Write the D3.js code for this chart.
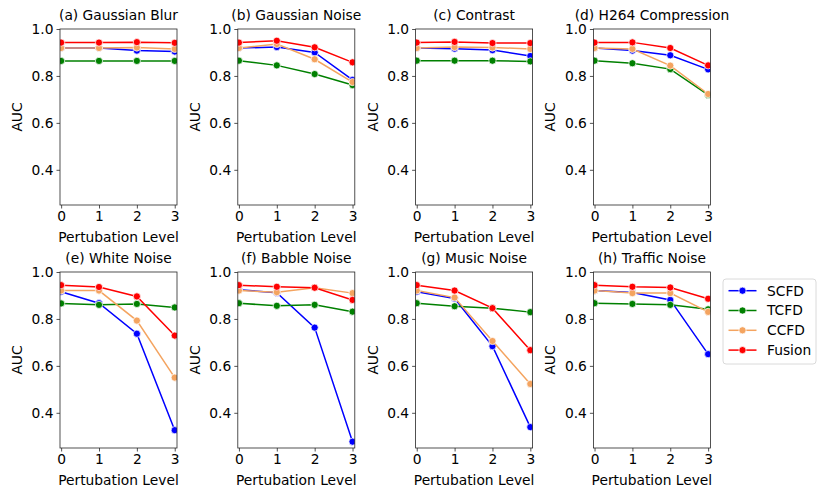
<!DOCTYPE html>
<html><head><meta charset="utf-8">
<script src="https://cdn.jsdelivr.net/npm/d3@7/dist/d3.min.js"></script>
<style>body{margin:0;background:#fff}svg{display:block}text{font-family:"DejaVu Sans",sans-serif}</style>
</head><body><svg id="c" width="830" height="498"></svg>
<script>
const levels = [0, 1, 2, 3];
const yTicks = [0.4, 0.6, 0.8, 1.0];
const seriesNames = ["SCFD", "TCFD", "CCFD", "Fusion"];
const seriesColors = ["#0000ff", "#008000", "#f4a460", "#ff0000"];
const panelTitles = ["(a) Gaussian Blur", "(b) Gaussian Noise", "(c) Contrast", "(d) H264 Compression",
  "(e) White Noise", "(f) Babble Noise", "(g) Music Noise", "(h) Traffic Noise"];
// values per panel: [SCFD, TCFD, CCFD, Fusion]
const gaussianBlur = [[0.919,0.919,0.908,0.904],[0.864,0.864,0.864,0.864],[0.919,0.919,0.921,0.915],[0.942,0.942,0.944,0.941]];
const gaussianNoise = [[0.919,0.923,0.900,0.783],[0.865,0.845,0.808,0.761],[0.919,0.936,0.871,0.774],[0.942,0.950,0.922,0.858]];
const contrast = [[0.919,0.916,0.910,0.885],[0.865,0.865,0.865,0.862],[0.919,0.923,0.921,0.915],[0.942,0.945,0.940,0.940]];
const h264 = [[0.919,0.908,0.888,0.828],[0.865,0.854,0.829,0.719],[0.919,0.915,0.844,0.723],[0.942,0.943,0.919,0.845]];
const whiteNoise = [[0.916,0.867,0.737,0.326],[0.866,0.860,0.864,0.849],[0.921,0.921,0.793,0.550],[0.944,0.936,0.896,0.729]];
const babbleNoise = [[0.924,0.912,0.763,0.277],[0.867,0.856,0.860,0.831],[0.921,0.914,0.933,0.910],[0.944,0.937,0.933,0.881]];
const musicNoise = [[0.916,0.887,0.684,0.339],[0.867,0.854,0.846,0.829],[0.921,0.891,0.706,0.523],[0.944,0.921,0.846,0.667]];
const trafficNoise = [[0.921,0.913,0.881,0.650],[0.867,0.864,0.860,0.841],[0.921,0.910,0.910,0.830],[0.944,0.937,0.934,0.886]];
const panelData = [gaussianBlur, gaussianNoise, contrast, h264, whiteNoise, babbleNoise, musicNoise, trafficNoise];

const svg = d3.select("#c");
const W = 117, H = 176;
const lefts = [60, 237.8, 415.6, 593.4];
const tops = [29, 272];
const fs = "13.8px";
const axisColor = "#262626";

panelData.forEach((data, i) => {
  const col = i % 4, row = Math.floor(i / 4);
  const g = svg.append("g").attr("transform", `translate(${lefts[col]},${tops[row]})`);
  const x = d3.scaleLinear().domain([-0.03, 3.06]).range([0, W]);
  const y = d3.scaleLinear().domain([0.25, 1.0]).range([H, 0]);
  const cid = "clip" + i;
  g.append("clipPath").attr("id", cid).append("rect").attr("x", 0).attr("y", 0).attr("width", W).attr("height", H);
  const plot = g.append("g").attr("clip-path", `url(#${cid})`);
  const line = d3.line().x((d, k) => x(levels[k])).y(d => y(d));
  data.forEach((vals, s) => {
    plot.append("path").attr("d", line(vals)).attr("fill", "none")
      .attr("stroke", seriesColors[s]).attr("stroke-width", 1.5);
    plot.selectAll(null).data(vals).enter().append("circle")
      .attr("cx", (d, k) => x(levels[k])).attr("cy", d => y(d)).attr("r", 3.6)
      .attr("fill", seriesColors[s]).attr("stroke", "#fff").attr("stroke-width", 0.75);
  });
  // axes
  const xa = g.append("g").attr("transform", `translate(0,${H})`)
    .call(d3.axisBottom(x).tickValues(levels).tickFormat(d3.format("d")).tickSize(3.5).tickPadding(3));
  const ya = g.append("g").call(d3.axisLeft(y).tickValues(yTicks).tickFormat(d3.format(".1f")).tickSize(3.5).tickPadding(3));
  [xa, ya].forEach(a => {
    a.select(".domain").remove();
    a.selectAll("line").attr("stroke", axisColor).attr("stroke-width", 0.8);
    a.selectAll("text").attr("font-size", fs).attr("fill", "#000").attr("font-family", "DejaVu Sans");
  });
  g.append("rect").attr("width", W).attr("height", H).attr("fill", "none")
    .attr("stroke", axisColor).attr("stroke-width", 0.8);
  g.append("text").attr("x", W / 2).attr("y", -9).attr("text-anchor", "middle")
    .attr("font-size", fs).text(panelTitles[i]);
  g.append("text").attr("x", W / 2).attr("y", H + 36.5).attr("text-anchor", "middle")
    .attr("font-size", fs).text("Pertubation Level");
  g.append("text").attr("transform", `translate(-38,${H / 2}) rotate(-90)`).attr("text-anchor", "middle")
    .attr("font-size", fs).text("AUC");
});

// legend
const lg = svg.append("g").attr("transform", "translate(723,279)");
lg.append("rect").attr("width", 93).attr("height", 85).attr("rx", 3).attr("fill", "#fff")
  .attr("stroke", "#d0d0d0").attr("stroke-width", 0.8);
seriesNames.forEach((n, s) => {
  const yy = 11.7 + s * 19.8;
  lg.append("line").attr("x1", 5.5).attr("x2", 33.5).attr("y1", yy).attr("y2", yy)
    .attr("stroke", seriesColors[s]).attr("stroke-width", 1.5);
  lg.append("circle").attr("cx", 19.5).attr("cy", yy).attr("r", 3.6).attr("fill", seriesColors[s])
    .attr("stroke", "#fff").attr("stroke-width", 0.75);
  lg.append("text").attr("x", 44).attr("y", yy).attr("dy", "0.35em").attr("font-size", fs).text(n);
});
</script></body></html>
